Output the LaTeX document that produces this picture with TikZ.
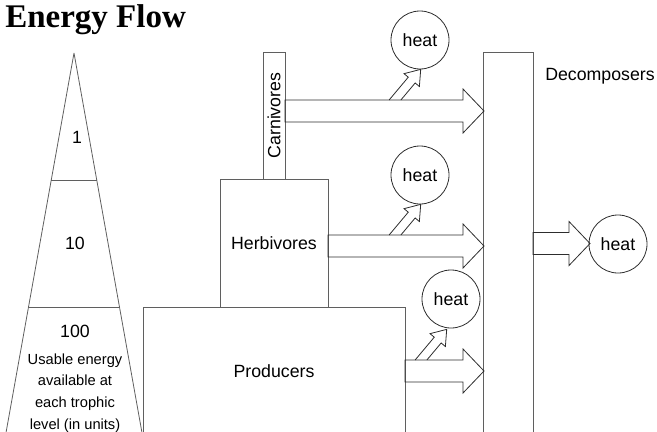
\documentclass[tikz,border=0pt]{standalone}
\usepackage{fontspec}
\setmainfont{Liberation Sans}
\newfontfamily\titleserif{Liberation Serif}
\definecolor{boxgray}{RGB}{95,95,95}
\definecolor{inkgray}{RGB}{45,45,45}

\begin{document}
\begin{tikzpicture}[x=0.75pt, y=-0.75pt,
		font=\fontsize{13.3pt}{16pt}\selectfont,
		box/.style={draw=boxgray, line width=0.6pt, inner sep=0pt, outer sep=0pt},
		heat/.style={draw=inkgray, line width=0.6pt, circle, minimum size=43.5pt, inner sep=0pt},
		flowline/.style={draw=inkgray, line width=0.6pt, line join=miter},
		pics/flowarrow/.style={code={\draw[flowline] (0,-11) -- (#1,-11) -- (#1,-22)
			-- (#1+21,0) -- (#1,22) -- (#1,11) -- (0,11) -- cycle;}},
		pics/heatarrow/.style={code={\draw[flowline] (-3.8,-4.5) -- (26,-4.5) -- (26,-10)
			-- (40,0) -- (26,10) -- (26,4.5) -- (3.8,4.5);}}]
		\clip (0,0) rectangle (657,432);
		% title
		\node[anchor=base west, inner sep=0pt, font=\titleserif\bfseries\fontsize{24.75pt}{28pt}\selectfont] (title) at (5,27) {Energy Flow};
		% energy pyramid
		\coordinate (apex) at (74,53);
		\draw[box] (apex) -- (4.7,440) (apex) -- (143.3,440);
		\draw[box] (51.3,180) -- (96.7,180) (28.5,307) -- (119.5,307);
		\node (lvla) at (77,137) {1};
		\node (lvlb) at (75,243) {10};
		\node (lvlc) at (75,331) {100};
		\node[align=center, inner sep=0pt, font=\fontsize{11pt}{16.3pt}\selectfont] (units) at (75,393)
			{Usable energy\\available at\\each trophic\\level (in units)};
		% trophic levels
		\node[box, minimum width=196.5pt, minimum height=96pt] (prod) at (274,371) {Producers};
		\node[box, minimum width=81pt, minimum height=96pt] (herb) at (274,243) {Herbivores};
		\node[box, rotate=90, minimum width=95.25pt, minimum height=16.5pt] (carn) at (274,115.5) {Carnivores};
		\node[box, minimum width=37.5pt, minimum height=291pt] (decomp) at (508,246) {};
		\node[anchor=base west, inner sep=0pt] (declbl) at (545,80) {Decomposers};
		% heat losses
		\node[heat] (heatc) at (420,40) {heat};
		\node[heat] (heath) at (420,175) {heat};
		\node[heat] (heatp) at (451,299) {heat};
		\node[heat] (heatd) at (618,244) {heat};
		% energy flow
		\pic at (285,111) {flowarrow=178};
		\pic at (328,246) {flowarrow=135};
		\pic at (405,371) {flowarrow=58};
		\pic at (533,243.5) {flowarrow=36};
		\pic[rotate=50] at (395,100) {heatarrow};
		\pic[rotate=50] at (395,235) {heatarrow};
		\pic[rotate=50] at (421,360) {heatarrow};
	\end{tikzpicture}
\end{document}
